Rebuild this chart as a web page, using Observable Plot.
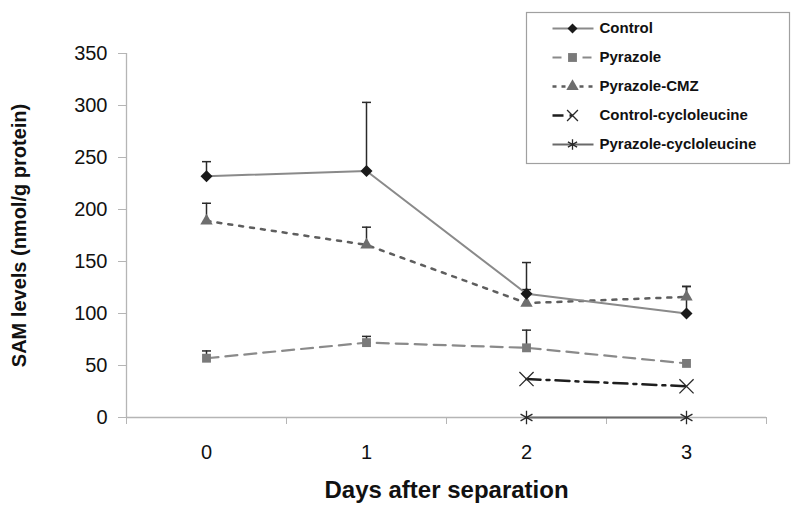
<!DOCTYPE html>
<html>
<head>
<meta charset="utf-8">
<script src="https://cdn.jsdelivr.net/npm/d3@7"></script>
<script src="https://cdn.jsdelivr.net/npm/@observablehq/plot@0.6"></script>
<style>
  html, body { margin: 0; padding: 0; background: #fff; }
  #wrap { position: relative; width: 800px; height: 520px; font-family: "Liberation Sans", Arial, sans-serif; }
  #legend { position: absolute; left: 526px; top: 12px; }
</style>
</head>
<body>
<div id="wrap"><div id="chart"></div><div id="legend"></div></div>
<script>
// ---- data ----
const days = [0, 1, 2, 3];
const controlVals = [232, 237, 119, 100];
const controlErr = [14, 66, 30, 26];
const pyrazoleVals = [57, 72, 67, 52];
const pyrazoleErr = [7, 6, 17, 0];
const cmzVals = [189, 166, 110, 116];
const cmzErr = [17, 17, 13, 10];
const cycloDays = [2, 3];
const controlCycloVals = [37, 30];
const pyrazoleCycloVals = [0, 0];
const seriesNames = ["Control", "Pyrazole", "Pyrazole-CMZ", "Control-cycloleucine", "Pyrazole-cycloleucine"];
const yTicks = [0, 50, 100, 150, 200, 250, 300, 350];
const yLabel = "SAM levels (nmol/g protein)";
const xLabel = "Days after separation";

const rows = (xs, vs, es) => xs.map((d, i) => ({day: d, value: vs[i], err: es ? es[i] : 0}));
const control = rows(days, controlVals, controlErr);
const pyrazole = rows(days, pyrazoleVals, pyrazoleErr);
const cmz = rows(days, cmzVals, cmzErr);
const controlCyclo = rows(cycloDays, controlCycloVals);
const pyrazoleCyclo = rows(cycloDays, pyrazoleCycloVals);

const capSymbol = {draw(ctx, size) { const w = 4.5; ctx.moveTo(-w, 0); ctx.lineTo(w, 0); }};
const diamondSymbol = {draw(ctx, size) { const r = 6; ctx.moveTo(0, -r); ctx.lineTo(r, 0); ctx.lineTo(0, r); ctx.lineTo(-r, 0); ctx.closePath(); }};
const diamondSmall = {draw(ctx, size) { const r = 5; ctx.moveTo(0, -r); ctx.lineTo(r, 0); ctx.lineTo(0, r); ctx.lineTo(-r, 0); ctx.closePath(); }};

const styles = {
  "Control": {stroke: "#8a8a8a", dash: null, legendDash: null, width: 2, symbol: diamondSymbol, lsymbol: diamondSmall, fill: "#1a1a1a", mstroke: "none", r: 6},
  "Pyrazole": {stroke: "#8a8a8a", dash: "12,7", legendDash: "9,21", width: 2.2, symbol: "square", lsymbol: "square", fill: "#7a7a7a", mstroke: "none", r: 5},
  "Pyrazole-CMZ": {stroke: "#5e5e5e", dash: "4,7", legendDash: "4,5", width: 2.5, symbol: "triangle", lsymbol: "triangle", fill: "#6e6e6e", mstroke: "none", r: 4.6},
  "Control-cycloleucine": {stroke: "#1e1e1e", dash: "14,6,3,6", legendDash: "11,6,3,30", width: 2.5, symbol: "times", lsymbol: "times", fill: "none", mstroke: "#2a2a2a", r: 6.5},
  "Pyrazole-cycloleucine": {stroke: "#6a6a6a", dash: null, legendDash: null, width: 2, symbol: "asterisk", lsymbol: "asterisk", fill: "none", mstroke: "#2a2a2a", r: 6.5}
};

function seriesMarks(data, name) {
  const s = styles[name];
  const lineOpts = {x: "day", y: "value", stroke: s.stroke, strokeWidth: s.width};
  if (s.dash) lineOpts.strokeDasharray = s.dash;
  return [
    Plot.line(data, lineOpts),
    Plot.dot(data, {x: "day", y: "value", symbol: () => s.symbol, r: s.r, fill: s.fill, stroke: s.mstroke, strokeWidth: 1.3})
  ];
}
function errMarks(data) {
  const d = data.filter(r => r.err > 0);
  return [
    Plot.ruleX(d, {x: "day", y1: "value", y2: r => r.value + r.err, stroke: "#2a2a2a", strokeWidth: 1.5}),
    Plot.dot(d, {x: "day", y: r => r.value + r.err, symbol: () => capSymbol, r: 4, fill: "none", stroke: "#2a2a2a", strokeWidth: 1.5})
  ];
}

const chart = Plot.plot({
  width: 800, height: 520,
  marginLeft: 126, marginRight: 34, marginTop: 53, marginBottom: 103,
  style: {fontFamily: "'Liberation Sans', Arial, sans-serif", background: "#fff", color: "#111"},
  x: {domain: [-0.5, 3.5], axis: null},
  y: {domain: [0, 350], axis: null},
  symbol: {type: "identity"},
  marks: [
    Plot.ruleY([0], {stroke: "#b5b5b5", strokeWidth: 1.3}),
    Plot.ruleX([-0.5], {stroke: "#b5b5b5", strokeWidth: 1.3}),
    Plot.axisY({ticks: yTicks, tickSize: 8, tickPadding: 11, fontSize: 20, stroke: "#b5b5b5", label: null, tickFormat: d => String(d)}),
    Plot.axisX({ticks: [-0.5, 0.5, 1.5, 2.5, 3.5], tickSize: 7, stroke: "#b5b5b5", tickFormat: () => "", label: null}),
    Plot.axisX({ticks: days, tickSize: 0, tickPadding: 27, fontSize: 20, label: null, tickFormat: d => String(d)}),
    Plot.text([yLabel], {frameAnchor: "left", textAnchor: "middle", rotate: -90, dx: -107, fontSize: 20, fontWeight: "bold", fill: "#111"}),
    Plot.text([xLabel], {frameAnchor: "bottom", textAnchor: "middle", dy: 80, fontSize: 24, fontWeight: "bold", fill: "#111"}),
    ...errMarks(control),
    ...errMarks(pyrazole),
    ...errMarks(cmz),
    ...seriesMarks(pyrazoleCyclo, "Pyrazole-cycloleucine"),
    ...seriesMarks(controlCyclo, "Control-cycloleucine"),
    ...seriesMarks(pyrazole, "Pyrazole"),
    ...seriesMarks(cmz, "Pyrazole-CMZ"),
    ...seriesMarks(control, "Control")
  ]
});
document.getElementById("chart").appendChild(chart);

// ---- legend ----
const legendRows = seriesNames.map(n => ({name: n}));
const legendMarks = [Plot.frame({stroke: "#a0a0a0", strokeWidth: 1.2})];
for (const n of seriesNames) {
  const s = styles[n];
  const lo = {x1: () => 26, x2: () => 67, y1: () => n, y2: () => n, stroke: s.stroke, strokeWidth: s.width};
  if (s.legendDash) lo.strokeDasharray = s.legendDash;
  legendMarks.push(Plot.link([n], lo));
  legendMarks.push(Plot.dot([n], {x: () => 46, y: d => d, symbol: () => s.lsymbol, r: Math.min(s.r, 5), fill: s.fill, stroke: s.mstroke, strokeWidth: 1.3}));
}
legendMarks.push(Plot.text(legendRows, {x: () => 73, y: "name", text: "name", textAnchor: "start", fontSize: 15, fontWeight: "bold", fill: "#111"}));
const legend = Plot.plot({
  width: 263, height: 151,
  margin: 0, marginTop: 0, marginBottom: 0, marginLeft: 0, marginRight: 0,
  style: {fontFamily: "'Liberation Sans', Arial, sans-serif", background: "#fff", color: "#111", overflow: "visible"},
  x: {type: "linear", domain: [0, 263], range: [0, 263], axis: null},
  y: {type: "point", domain: seriesNames, range: [15, 133], padding: 0, axis: null},
  symbol: {type: "identity"},
  marks: legendMarks
});
document.getElementById("legend").appendChild(legend);
</script>
</body>
</html>
